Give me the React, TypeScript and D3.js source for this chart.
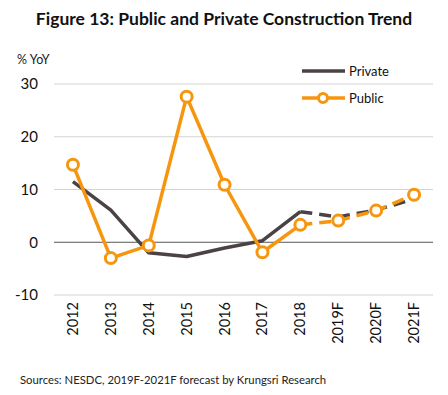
import React from "react";
import * as d3 from "d3";

const categories = ["2012", "2013", "2014", "2015", "2016", "2017", "2018", "2019F", "2020F", "2021F"];
const privateValues = [11.5, 6.1, -2.0, -2.7, -1.1, 0.3, 5.8, 4.8, 6.1, 8.2];
const publicValues = [14.7, -3.0, -0.6, 27.6, 10.9, -1.9, 3.3, 4.1, 6.0, 9.0];
const yTicks = [-10, 0, 10, 20, 30];
const forecastStart = 6; // index of 2018, last actual

const ORANGE = "#F7960E";
const DARK = "#4A4244";
const FONT = "Lato, 'Open Sans', sans-serif";

export default function App() {
  const W = 448, H = 395;
  const x = d3.scaleBand<string>().domain(categories).range([54, 433]);
  const y = d3.scaleLinear().domain([-10, 30]).range([295, 84]);
  const cx = (c: string) => (x(c) as number) + x.bandwidth() / 2;
  const lineDef = d3
    .line<[number, number]>()
    .x((d) => cx(categories[d[0]]))
    .y((d) => y(d[1]));
  const actual = (arr: number[]) => arr.slice(0, forecastStart + 1).map((v, i) => [i, v] as [number, number]);
  const forecast = (arr: number[]) =>
    arr.slice(forecastStart).map((v, i) => [i + forecastStart, v] as [number, number]);

  return (
    <svg width={W} height={H} style={{ position: "absolute", left: 0, top: 0, background: "#fff" }}>
      <rect width={W} height={H} fill="#fff" />
      <text x={224} y={25} textAnchor="middle" fontFamily={FONT} fontWeight="bold" fontSize={17.5} fill="#111">
        Figure 13: Public and Private Construction Trend
      </text>
      <text x={17} y={64} fontFamily={FONT} fontSize={12.5} fill="#222">% YoY</text>
      {yTicks.map((t) => (
        <g key={t}>
          <line x1={54} x2={433} y1={y(t)} y2={y(t)} stroke={t === 0 ? "#555" : "#d4d4d4"} strokeWidth={1} />
          <text x={38} y={y(t)} dy="0.35em" textAnchor="end" fontFamily={FONT} fontSize={15} fill="#111">
            {t}
          </text>
        </g>
      ))}
      {categories.map((c) => (
        <text
          key={c}
          transform={`translate(${cx(c) + 5},${302}) rotate(-90)`}
          textAnchor="end"
          fontFamily={FONT}
          fontSize={14.5}
          fill="#111"
        >
          {c}
        </text>
      ))}
      {/* Private */}
      <path d={lineDef(actual(privateValues)) as string} fill="none" stroke={DARK} strokeWidth={3.5} strokeLinejoin="round" />
      <path d={lineDef(forecast(privateValues)) as string} fill="none" stroke={DARK} strokeWidth={3.5} strokeDasharray="12,7" />
      {/* Public */}
      <path d={lineDef(actual(publicValues)) as string} fill="none" stroke={ORANGE} strokeWidth={3.5} strokeLinejoin="round" />
      <path d={lineDef(forecast(publicValues)) as string} fill="none" stroke={ORANGE} strokeWidth={3.5} strokeDasharray="12,7" />
      {publicValues.map((v, i) => (
        <circle key={i} cx={cx(categories[i])} cy={y(v)} r={5.5} fill="#fff" stroke={ORANGE} strokeWidth={3} />
      ))}
      {/* Legend */}
      <line x1={302} x2={345} y1={71} y2={71} stroke={DARK} strokeWidth={3.5} />
      <text x={349} y={71} dy="0.35em" fontFamily={FONT} fontSize={13} fill="#111">Private</text>
      <line x1={302} x2={345} y1={98} y2={98} stroke={ORANGE} strokeWidth={3.5} />
      <circle cx={323} cy={98} r={4.5} fill="#fff" stroke={ORANGE} strokeWidth={3} />
      <text x={349} y={98} dy="0.35em" fontFamily={FONT} fontSize={13} fill="#111">Public</text>
      <text x={20} y={384} fontFamily={FONT} fontSize={11.3} fill="#222">
        Sources: NESDC, 2019F-2021F forecast by  Krungsri Research
      </text>
    </svg>
  );
}
